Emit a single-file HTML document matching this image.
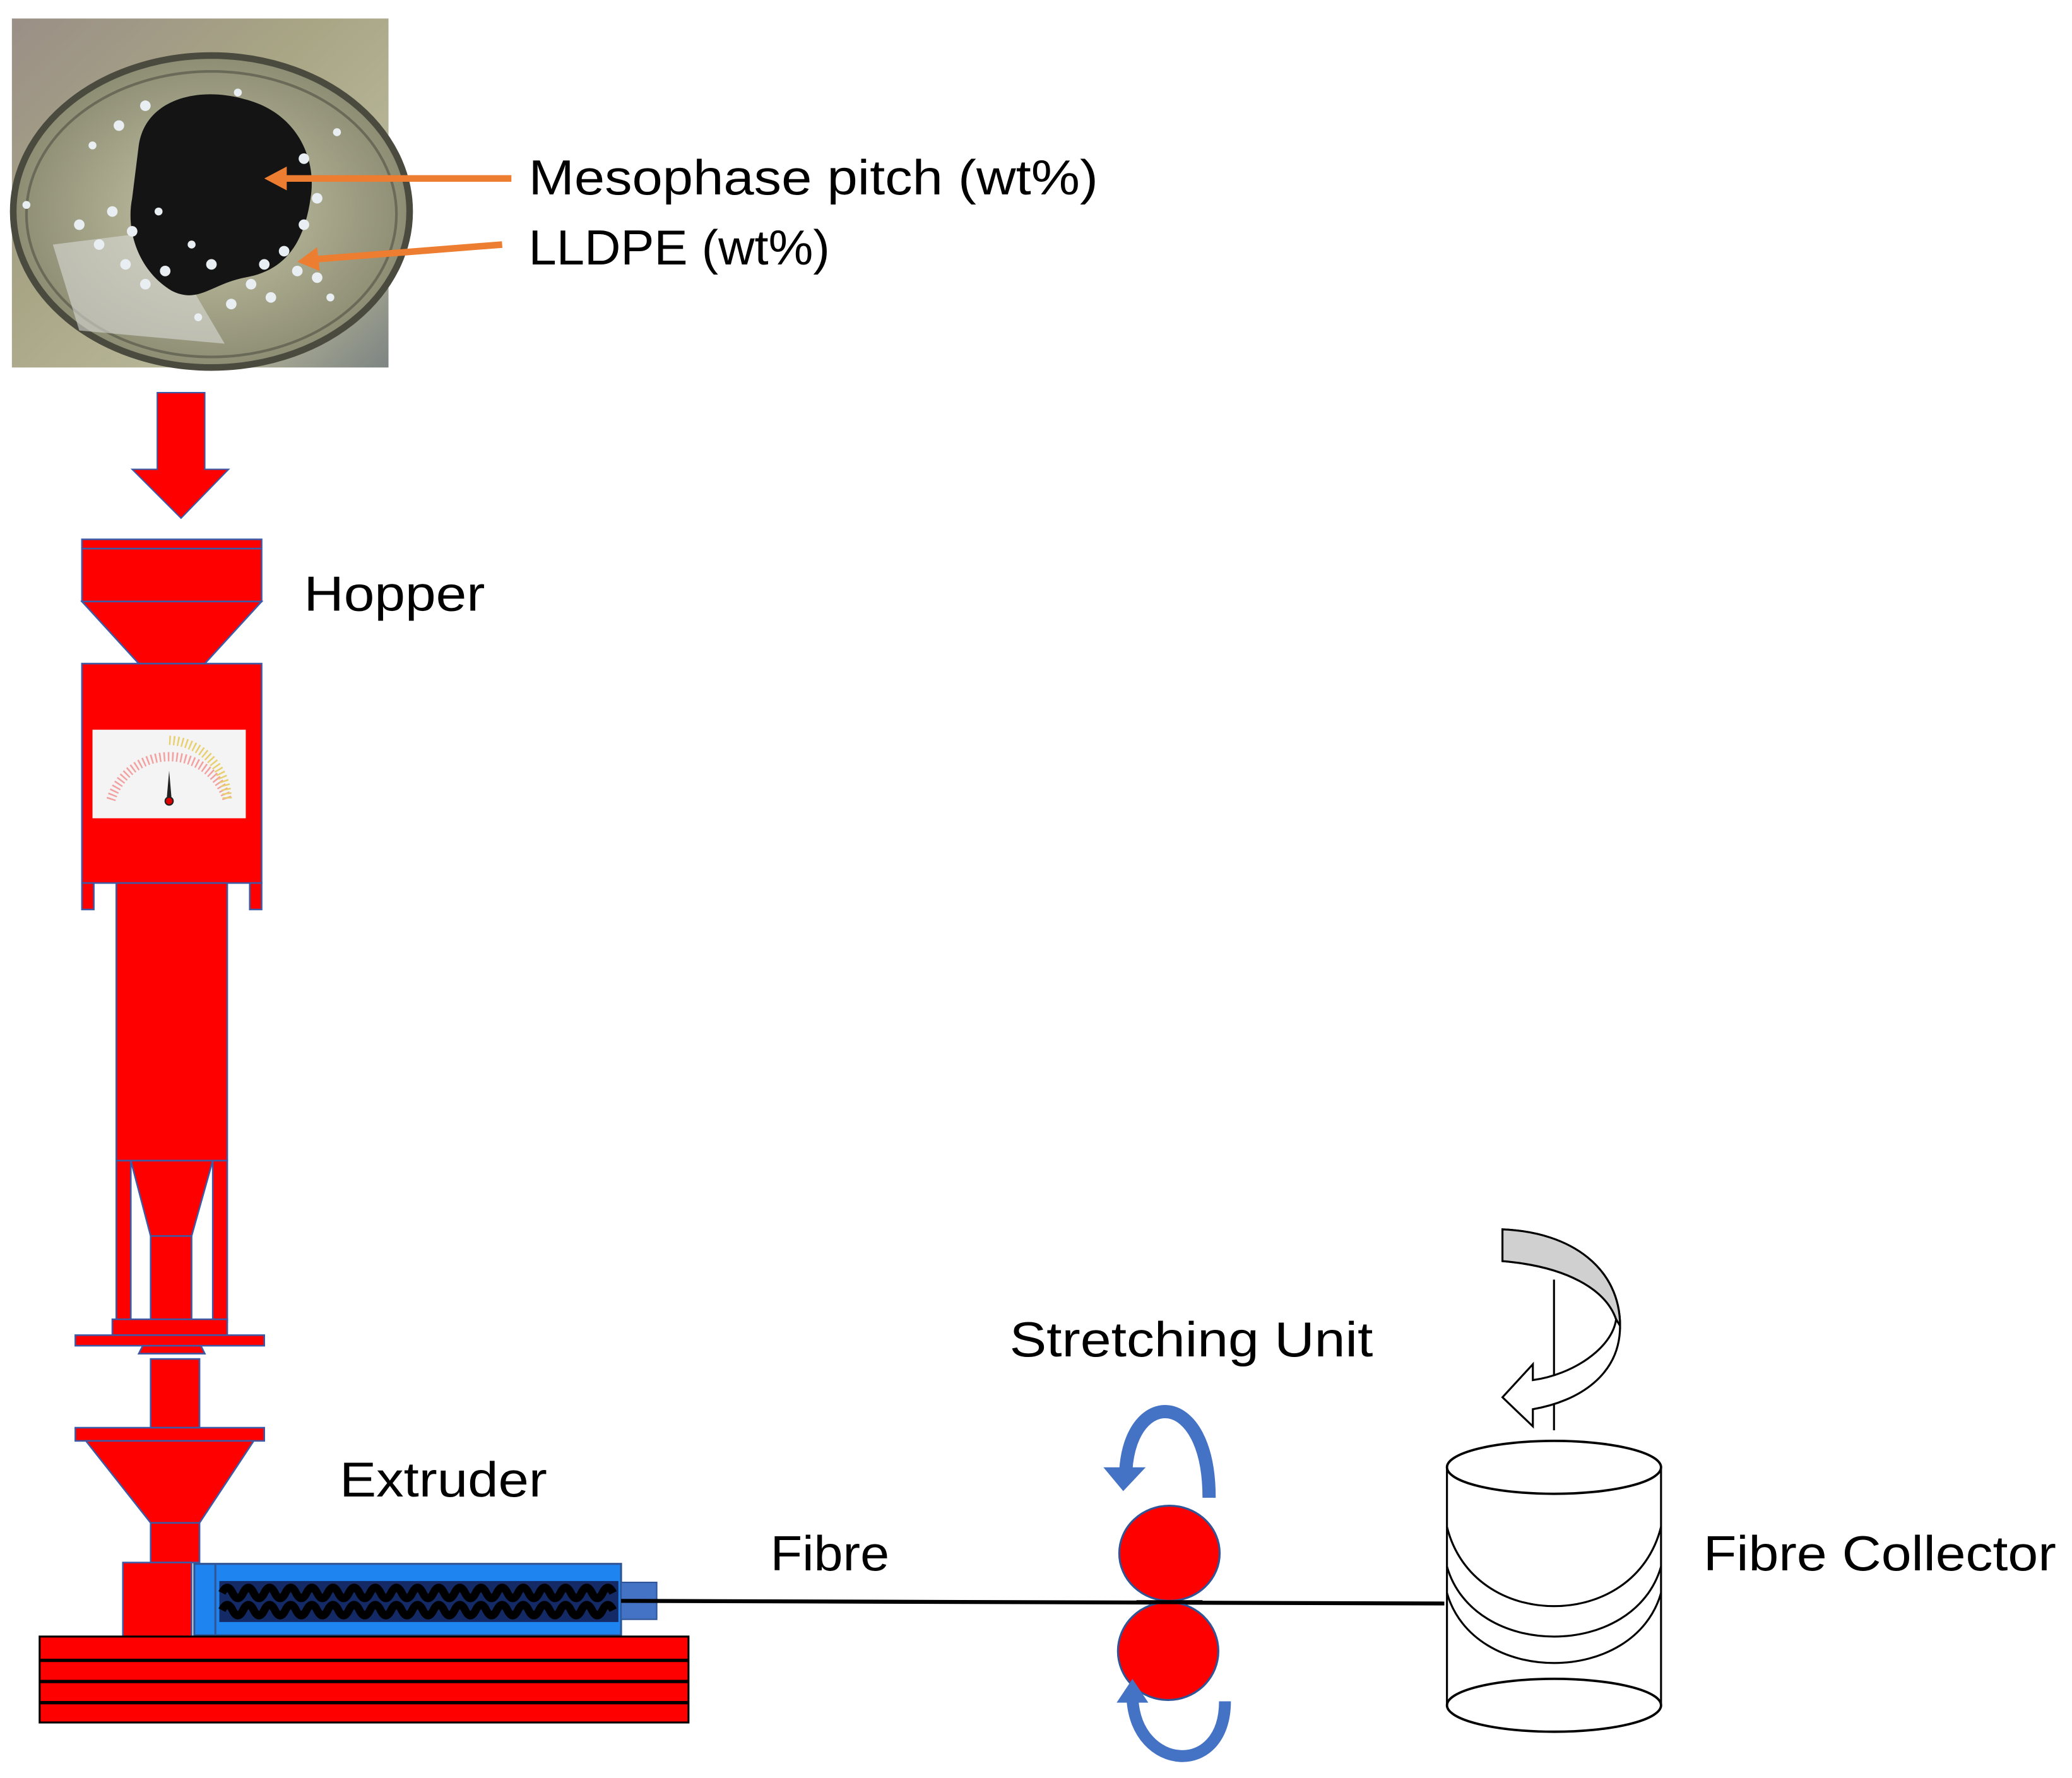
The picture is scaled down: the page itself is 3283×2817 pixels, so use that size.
<!DOCTYPE html>
<html><head><meta charset="utf-8"><style>
html,body{margin:0;padding:0;background:#fff}
svg{display:block}
text{font-family:"Liberation Sans",sans-serif;fill:#000}
</style></head><body>
<svg width="3283" height="2817" viewBox="0 0 1568 1345" preserveAspectRatio="none" xmlns="http://www.w3.org/2000/svg">
<defs>
<linearGradient id="ph" x1="0" y1="0" x2="1" y2="1">
<stop offset="0" stop-color="#9a8f86"/><stop offset="0.4" stop-color="#a8a585"/><stop offset="0.75" stop-color="#b9b89a"/><stop offset="1" stop-color="#7d8482"/>
</linearGradient>
<radialGradient id="tray" cx="0.5" cy="0.5" r="0.5">
<stop offset="0" stop-color="#c7c6a8"/><stop offset="1" stop-color="#8d8d74"/>
</radialGradient>
</defs>
<!-- photo -->
<rect x="9" y="14" width="285" height="264" fill="url(#ph)"/>
<ellipse cx="160" cy="160" rx="150" ry="118" fill="url(#tray)" stroke="#4a4a3e" stroke-width="5"/>
<ellipse cx="160" cy="162" rx="140" ry="108" fill="none" stroke="#6a6a58" stroke-width="2"/>
<polygon points="40,185 120,175 170,260 60,250" fill="#d8dad6" opacity="0.6"/>
<path d="M105,110 C110,75 150,65 185,75 C225,85 240,120 235,150 C230,185 215,205 185,210 C160,215 150,230 130,220 C105,205 95,175 100,150 Z" fill="#141414"/>
<g fill="#e8eef2">
<circle cx="90" cy="95" r="4"/><circle cx="110" cy="80" r="4"/><circle cx="70" cy="110" r="3"/><circle cx="230" cy="120" r="4"/><circle cx="240" cy="150" r="4"/>
<circle cx="60" cy="170" r="4"/><circle cx="75" cy="185" r="4"/><circle cx="95" cy="200" r="4"/><circle cx="110" cy="215" r="4"/><circle cx="200" cy="200" r="4"/>
<circle cx="215" cy="190" r="4"/><circle cx="225" cy="205" r="4"/><circle cx="190" cy="215" r="4"/><circle cx="175" cy="230" r="4"/><circle cx="205" cy="225" r="4"/>
<circle cx="240" cy="210" r="4"/><circle cx="250" cy="225" r="3"/><circle cx="150" cy="240" r="3"/><circle cx="85" cy="160" r="4"/><circle cx="100" cy="175" r="4"/>
<circle cx="20" cy="155" r="3"/><circle cx="255" cy="100" r="3"/><circle cx="125" cy="205" r="4"/><circle cx="230" cy="170" r="4"/><circle cx="180" cy="70" r="3"/>
<circle cx="160" cy="200" r="4"/><circle cx="145" cy="185" r="3"/><circle cx="120" cy="160" r="3"/>
</g>
<!-- orange arrows -->
<line x1="387" y1="135" x2="215" y2="135" stroke="#ed7d31" stroke-width="5"/>
<polygon points="200,135 217,126 217,144" fill="#ed7d31"/>
<line x1="380" y1="185" x2="240" y2="196" stroke="#ed7d31" stroke-width="5"/>
<polygon points="225,198 240,187 242,205" fill="#ed7d31"/>
<text x="400" y="147" font-size="37" textLength="431" lengthAdjust="spacingAndGlyphs">Mesophase pitch (wt%)</text>
<text x="400" y="200" font-size="37" textLength="228" lengthAdjust="spacingAndGlyphs">LLDPE (wt%)</text>
<!-- red down arrow -->
<polygon points="119,297 155,297 155,355 173,355 137,392 100,355 119,355" fill="#ff0000" stroke="#3b5ba8" stroke-width="1"/>
<g fill="#ff0000" stroke="#3b5ba8" stroke-width="1.2">
<rect x="62" y="408" width="136" height="47"/>
<line x1="62" y1="415" x2="198" y2="415"/>
<polygon points="62,455 198,455 155,502 105,502"/>
<rect x="62" y="502" width="136" height="166"/>
<rect x="62" y="668" width="9" height="20"/>
<rect x="189" y="668" width="9" height="20"/>
<rect x="88" y="668" width="84" height="210"/>
<rect x="88" y="878" width="11" height="122"/>
<rect x="161" y="878" width="11" height="122"/>
<polygon points="99,878 161,878 145,935 114,935"/>
<rect x="114" y="935" width="31" height="65"/>
<rect x="85" y="998" width="87" height="12"/>
<rect x="57" y="1010" width="143" height="8"/>
<polygon points="108,1018 152,1018 155,1024 105,1024"/>
<rect x="114" y="1028" width="37" height="52"/>
<rect x="57" y="1080" width="143" height="10"/>
<polygon points="65,1090 192,1090 151,1152 114,1152"/>
<rect x="114" y="1152" width="37" height="30"/>
<rect x="93" y="1182" width="52" height="56"/>
</g>
<!-- gauge -->
<rect x="70" y="552" width="116" height="67" fill="#f4f4f4"/>
<path d="M84,605 A46,46 0 0 1 172,605" fill="none" stroke="#f2a0a0" stroke-width="7" stroke-dasharray="1.2 2"/>
<path d="M128,560 A46,46 0 0 1 172,605" fill="none" stroke="#e8d070" stroke-width="7" stroke-dasharray="1.2 2"/>
<polygon points="126,606 128,583 130,606" fill="#222"/>
<circle cx="128" cy="606" r="3" fill="#d00" stroke="#222" stroke-width="1"/>
<text x="230" y="462" font-size="37" textLength="137" lengthAdjust="spacingAndGlyphs">Hopper</text>
<text x="257" y="1132" font-size="37" textLength="157" lengthAdjust="spacingAndGlyphs">Extruder</text>
<!-- extruder barrel -->
<rect x="147" y="1183" width="323" height="54" fill="#1e84f0" stroke="#2f5597" stroke-width="1.5"/>
<line x1="163" y1="1183" x2="163" y2="1237" stroke="#2f5597" stroke-width="1.5"/>
<rect x="166" y="1196" width="302" height="31" fill="#142a66"/>
<path d="M168,1205 q4,-8 8,0 q4,8 8,0 q4,-8 8,0 q4,8 8,0 q4,-8 8,0 q4,8 8,0 q4,-8 8,0 q4,8 8,0 q4,-8 8,0 q4,8 8,0 q4,-8 8,0 q4,8 8,0 q4,-8 8,0 q4,8 8,0 q4,-8 8,0 q4,8 8,0 q4,-8 8,0 q4,8 8,0 q4,-8 8,0 q4,8 8,0 q4,-8 8,0 q4,8 8,0 q4,-8 8,0 q4,8 8,0 q4,-8 8,0 q4,8 8,0 q4,-8 8,0 q4,8 8,0 q4,-8 8,0 q4,8 8,0 q4,-8 8,0 q4,8 8,0 q4,-8 8,0 q4,8 8,0 q4,-8 8,0 q4,8 8,0 q4,-8 8,0" fill="none" stroke="#000" stroke-width="6"/>
<path d="M168,1218 q4,-8 8,0 q4,8 8,0 q4,-8 8,0 q4,8 8,0 q4,-8 8,0 q4,8 8,0 q4,-8 8,0 q4,8 8,0 q4,-8 8,0 q4,8 8,0 q4,-8 8,0 q4,8 8,0 q4,-8 8,0 q4,8 8,0 q4,-8 8,0 q4,8 8,0 q4,-8 8,0 q4,8 8,0 q4,-8 8,0 q4,8 8,0 q4,-8 8,0 q4,8 8,0 q4,-8 8,0 q4,8 8,0 q4,-8 8,0 q4,8 8,0 q4,-8 8,0 q4,8 8,0 q4,-8 8,0 q4,8 8,0 q4,-8 8,0 q4,8 8,0 q4,-8 8,0 q4,8 8,0 q4,-8 8,0 q4,8 8,0 q4,-8 8,0" fill="none" stroke="#000" stroke-width="6"/>
<rect x="470" y="1197" width="27" height="28" fill="#4472c4" stroke="#2f5597" stroke-width="1"/>
<!-- base -->
<rect x="30" y="1238" width="491" height="65" fill="#ff0000" stroke="#000" stroke-width="1.5"/>
<line x1="30" y1="1256" x2="521" y2="1256" stroke="#000" stroke-width="2.5"/>
<line x1="30" y1="1272" x2="521" y2="1272" stroke="#000" stroke-width="2.5"/>
<line x1="30" y1="1288" x2="521" y2="1288" stroke="#000" stroke-width="2.5"/>
<!-- fibre -->
<line x1="470" y1="1211" x2="1093" y2="1213" stroke="#000" stroke-width="3"/>
<text x="583" y="1188" font-size="37" textLength="90" lengthAdjust="spacingAndGlyphs">Fibre</text>
<text x="764" y="1026" font-size="37" textLength="275" lengthAdjust="spacingAndGlyphs">Stretching Unit</text>
<text x="1289" y="1188" font-size="37" textLength="267" lengthAdjust="spacingAndGlyphs">Fibre Collector</text>
<!-- rollers -->
<ellipse cx="885" cy="1175" rx="38" ry="36" fill="#ff0000" stroke="#2f5597" stroke-width="1.5"/>
<ellipse cx="884" cy="1249" rx="38" ry="37" fill="#ff0000" stroke="#2f5597" stroke-width="1.5"/>
<line x1="860" y1="1212" x2="910" y2="1212" stroke="#000" stroke-width="3"/>
<!-- blue curved arrows -->
<path d="M915,1133 C915,1050 856,1050 852,1112" fill="none" stroke="#4472c4" stroke-width="10"/>
<polygon points="835,1110 867,1110 850,1128" fill="#4472c4"/>
<path d="M927,1287 C927,1345 860,1340 857,1285" fill="none" stroke="#4472c4" stroke-width="9"/>
<polygon points="845,1288 869,1288 857,1270" fill="#4472c4"/>
<!-- collector -->
<line x1="1176" y1="968" x2="1176" y2="1082" stroke="#000" stroke-width="1.5"/>
<path d="M1137,930 C1190,932 1226,960 1226,1003 C1226,1040 1195,1060 1160,1066 L1160,1079 L1137,1057 L1160,1032 L1160,1044 C1190,1040 1220,1020 1223,998 C1215,975 1185,958 1137,954 Z" fill="#fff" stroke="#000" stroke-width="1.5"/>
<path d="M1137,930 C1190,932 1226,960 1226,1003 L1223,998 C1215,975 1185,958 1137,954 Z" fill="#d0d0d0" stroke="#000" stroke-width="1.5"/>
<line x1="1095" y1="1110" x2="1095" y2="1290" stroke="#000" stroke-width="1.5"/>
<line x1="1257" y1="1110" x2="1257" y2="1290" stroke="#000" stroke-width="1.5"/>
<ellipse cx="1176" cy="1110" rx="81" ry="20" fill="#fff" stroke="#000" stroke-width="1.8"/>
<ellipse cx="1176" cy="1290" rx="81" ry="20" fill="#fff" stroke="#000" stroke-width="1.8"/>
<path d="M1095,1155 C1105,1195 1140,1215 1176,1215 C1212,1215 1247,1195 1257,1155" fill="none" stroke="#000" stroke-width="1.5"/>
<path d="M1095,1185 C1105,1220 1140,1238 1176,1238 C1212,1238 1247,1220 1257,1185" fill="none" stroke="#000" stroke-width="1.5"/>
<path d="M1095,1205 C1105,1240 1140,1258 1176,1258 C1212,1258 1247,1240 1257,1205" fill="none" stroke="#000" stroke-width="1.5"/>
</svg>
</body></html>
